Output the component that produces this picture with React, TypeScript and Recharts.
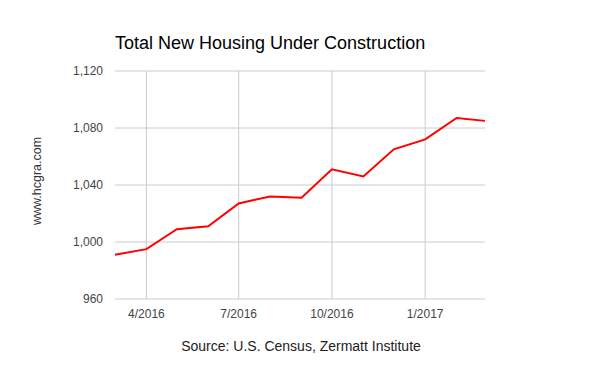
import { LineChart, Line, XAxis, YAxis, CartesianGrid, ReferenceLine } from "recharts";

// monthly values, 3/2016 .. 3/2017
const months = [
	"2016-03", "2016-04", "2016-05", "2016-06", "2016-07", "2016-08", "2016-09",
	"2016-10", "2016-11", "2016-12", "2017-01", "2017-02", "2017-03",
];
const units = [991, 995, 1009, 1011, 1027, 1032, 1031, 1051, 1046, 1065, 1072, 1087, 1085];
const xTickMonths = ["2016-04", "2016-07", "2016-10", "2017-01"];
const yTicks = [960, 1000, 1040, 1080, 1120];

const toTime = (s: string) => Date.UTC(+s.slice(0, 4), +s.slice(5, 7) - 1, 1);

const data = months.map((m, i) => ({ date: toTime(m), value: units[i] }));
const xTicks = xTickMonths.map(toTime);

const fmtDate = (v: number) => {
	const d = new Date(v);
	return `${d.getUTCMonth() + 1}/${d.getUTCFullYear()}`;
};

export default function App() {
	return (
		<div
			style={{
				position: "absolute",
				left: 0,
				top: 0,
				width: 600,
				height: 371,
				background: "#fff",
				fontFamily: 'Arial, "Liberation Sans", sans-serif',
			}}
		>
			<div
				style={{
					position: "absolute",
					left: 115,
					top: 34,
					fontSize: 18,
					lineHeight: "18px",
					color: "#000",
					whiteSpace: "nowrap",
				}}
			>
				Total New Housing Under Construction
			</div>
			<div
				style={{
					position: "absolute",
					left: 37,
					top: 181,
					fontSize: 12.5,
					lineHeight: "12.5px",
					color: "#333",
					whiteSpace: "nowrap",
					transform: "translate(-50%, -50%) rotate(-90deg)",
				}}
			>
				www.hcgra.com
			</div>
			<LineChart
				width={600}
				height={371}
				data={data}
				margin={{ top: 71, right: 115, bottom: 42, left: 0 }}
			>
				<CartesianGrid stroke="#ccc" vertical={false} />
				{/* vertical grid only at the date ticks */}
				{xTicks.map((t) => (
					<ReferenceLine key={t} x={t} stroke="#ccc" strokeWidth={1} />
				))}
				<XAxis
					dataKey="date"
					type="number"
					scale="time"
					domain={[toTime(months[0]), toTime(months[months.length - 1])]}
					ticks={xTicks}
					tickFormatter={fmtDate}
					axisLine={false}
					tickLine={false}
					tickSize={0}
					tickMargin={10}
					height={30}
					tick={{ fill: "#444", fontSize: 12 }}
				/>
				<YAxis
					domain={[960, 1120]}
					ticks={yTicks}
					tickFormatter={(v: number) => v.toLocaleString("en-US")}
					axisLine={false}
					tickLine={false}
					tickSize={0}
					tickMargin={12}
					width={115}
					tick={{ fill: "#444", fontSize: 12 }}
				/>
				<Line
					type="linear"
					dataKey="value"
					stroke="#ff0000"
					strokeWidth={2}
					dot={false}
					activeDot={false}
					isAnimationActive={false}
				/>
			</LineChart>
			<div
				style={{
					position: "absolute",
					left: 0,
					width: 600,
					top: 339,
					textAlign: "center",
					paddingLeft: 1,
					fontSize: 14,
					lineHeight: "14px",
					color: "#222",
					whiteSpace: "nowrap",
				}}
			>
				Source: U.S. Census, Zermatt Institute
			</div>
		</div>
	);
}
